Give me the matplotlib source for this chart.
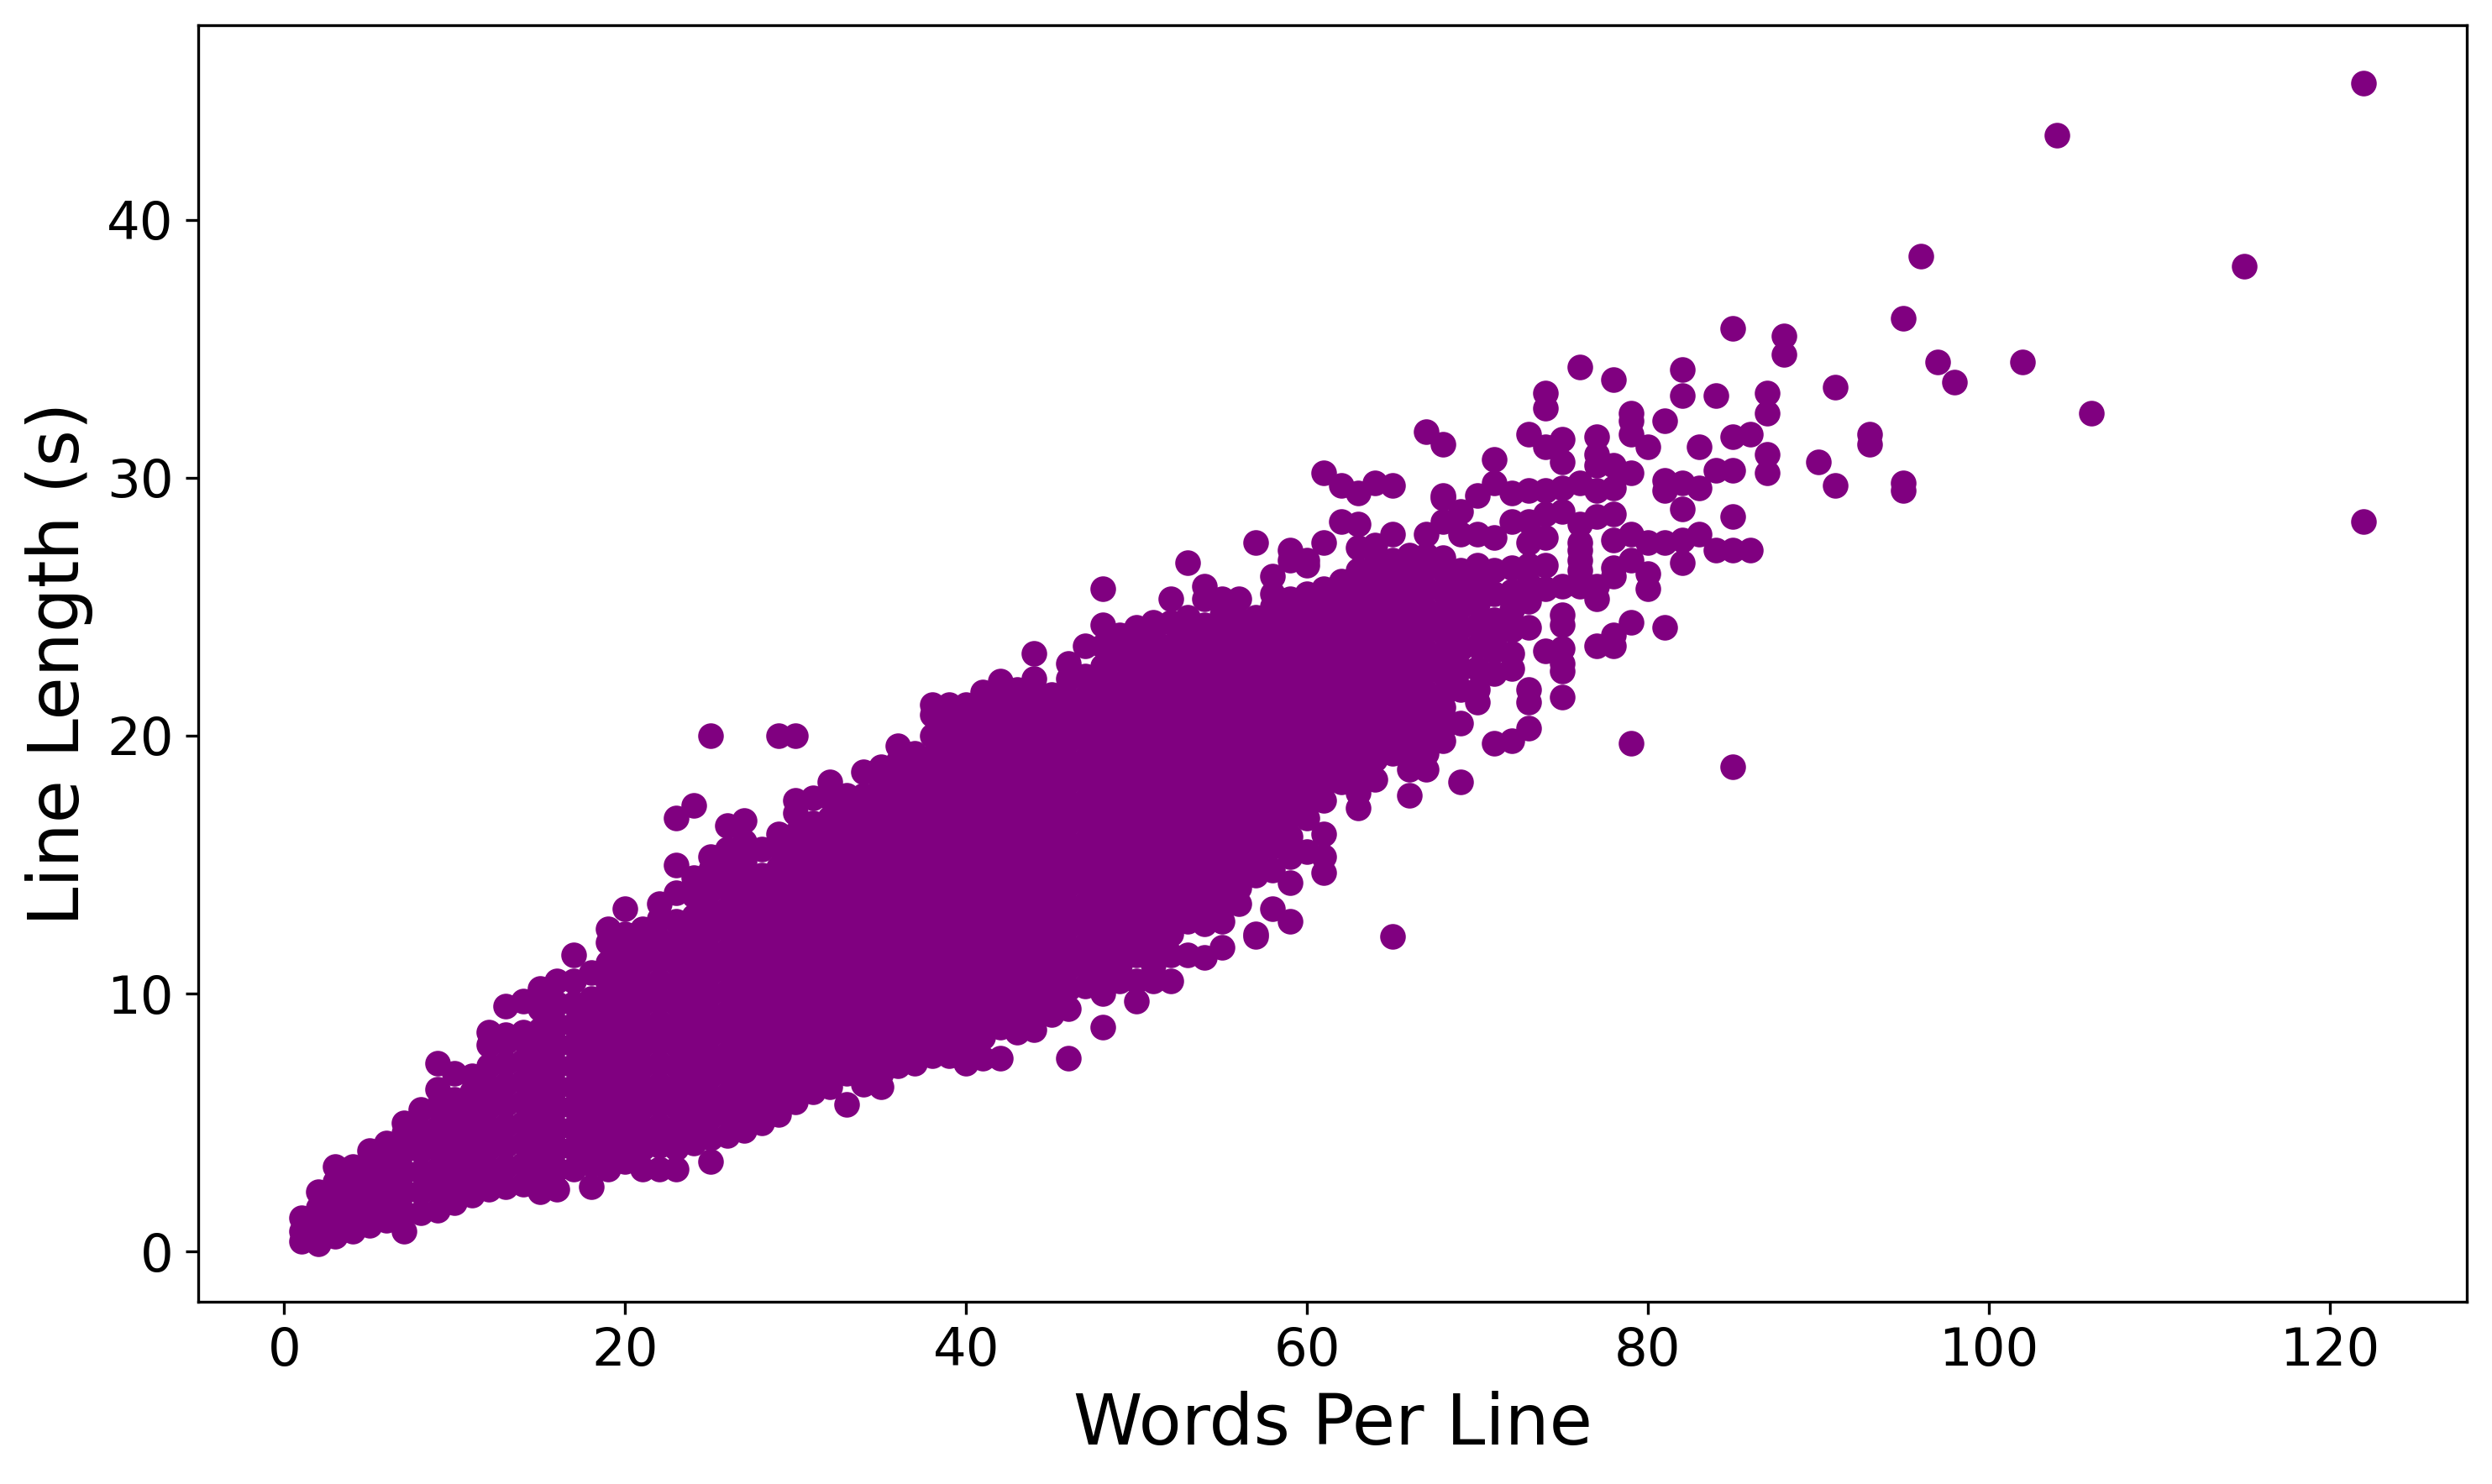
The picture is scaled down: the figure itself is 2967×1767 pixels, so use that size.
import matplotlib
matplotlib.use('Agg')
import matplotlib.pyplot as plt

# words per line -> line lengths (s), one list per word count
words_per_line = list(range(1, 89)) + [90, 91, 93, 95, 96, 97, 98, 102, 104, 106, 115, 122]

line_lengths = [
    [0.4, 0.8, 1.3],
    [0.3, 1.0, 1.7, 2.3],
    [0.6, 1.3, 2.0, 2.7, 3.3],
    [0.8, 1.6, 2.4, 3.2, 3.3],
    [1.0, 1.8, 2.6, 3.4, 3.9],
    [1.2, 2.0, 2.8, 3.6, 4.2],
    [0.8, 1.5, 2.3, 3.1, 3.9, 4.6, 5.0],
    [1.5, 2.3, 3.1, 3.9, 4.7, 5.5],
    [1.6, 2.4, 3.2, 4.0, 4.8, 5.6, 6.3, 7.3],
    [1.9, 2.7, 3.5, 4.3, 5.1, 5.9, 6.9],
    [2.2, 3.0, 3.8, 4.6, 5.4, 6.2, 6.8],
    [2.4, 3.2, 4.0, 4.8, 5.6, 6.4, 7.2, 8.0, 8.5],
    [2.5, 3.3, 4.1, 4.9, 5.7, 6.5, 7.3, 8.1, 8.4, 9.5],
    [2.6, 3.4, 4.2, 5.0, 5.8, 6.6, 7.4, 8.2, 8.5, 9.7],
    [2.3, 3.0, 3.8, 4.6, 5.4, 6.2, 7.0, 7.8, 8.6, 9.4, 10.2],
    [2.4, 3.2, 4.0, 4.8, 5.6, 6.4, 7.2, 8.0, 8.8, 9.6, 10.5],
    [3.2, 4.0, 4.8, 5.6, 6.4, 7.2, 8.0, 8.8, 9.6, 10.5, 11.5],
    [2.5, 3.4, 4.2, 5.0, 5.8, 6.6, 7.4, 8.2, 9.0, 9.8, 10.8],
    [3.2, 4.0, 4.8, 5.6, 6.4, 7.2, 8.0, 8.8, 9.6, 10.4, 11.2, 12.0, 12.5],
    [3.5, 4.3, 5.1, 5.9, 6.7, 7.5, 8.3, 9.1, 9.9, 10.7, 11.5, 12.3, 13.3],
    [3.2, 4.0, 4.8, 5.6, 6.4, 7.2, 8.0, 8.8, 9.6, 10.4, 11.2, 12.0, 12.5],
    [3.2, 4.1, 4.9, 5.7, 6.5, 7.3, 8.1, 8.9, 9.7, 10.5, 11.3, 12.1, 12.9, 13.5],
    [3.2, 4.0, 4.8, 5.6, 6.4, 7.2, 8.0, 8.8, 9.6, 10.4, 11.2, 12.0, 12.8, 13.9, 15.0, 16.8],
    [4.2, 5.0, 5.8, 6.6, 7.4, 8.2, 9.0, 9.8, 10.6, 11.4, 12.2, 13.0, 13.8, 14.5, 17.3],
    [3.5, 4.4, 5.2, 6.0, 6.8, 7.6, 8.4, 9.2, 10.0, 10.8, 11.6, 12.4, 13.2, 14.0, 14.8, 15.3, 20.0],
    [4.5, 5.3, 6.1, 6.9, 7.7, 8.5, 9.3, 10.1, 10.9, 11.7, 12.5, 13.3, 14.1, 14.9, 15.6, 16.5],
    [4.7, 5.5, 6.3, 7.1, 7.9, 8.7, 9.5, 10.3, 11.1, 11.9, 12.7, 13.5, 14.3, 15.1, 15.9, 16.7],
    [5.0, 5.8, 6.6, 7.4, 8.2, 9.0, 9.8, 10.6, 11.4, 12.2, 13.0, 13.8, 14.6, 15.6],
    [5.3, 6.1, 6.9, 7.7, 8.5, 9.3, 10.1, 10.9, 11.7, 12.5, 13.3, 14.1, 14.9, 15.7, 16.2, 20.0],
    [5.8, 6.6, 7.4, 8.2, 9.0, 9.8, 10.6, 11.4, 12.2, 13.0, 13.8, 14.6, 15.4, 16.2, 17.0, 17.5, 20.0],
    [6.2, 7.0, 7.8, 8.6, 9.4, 10.2, 11.0, 11.8, 12.6, 13.4, 14.2, 15.0, 15.8, 16.6, 17.6],
    [6.4, 7.2, 8.0, 8.8, 9.6, 10.4, 11.2, 12.0, 12.8, 13.6, 14.4, 15.2, 16.0, 16.8, 17.6, 18.2],
    [5.7, 6.9, 7.7, 8.5, 9.3, 10.1, 10.9, 11.7, 12.5, 13.3, 14.1, 14.9, 15.7, 16.5, 17.3, 17.7],
    [6.5, 7.3, 8.1, 8.9, 9.7, 10.5, 11.3, 12.1, 12.9, 13.7, 14.5, 15.3, 16.1, 16.9, 17.7, 18.6],
    [6.4, 6.9, 7.7, 8.5, 9.3, 10.1, 10.9, 11.7, 12.5, 13.3, 14.1, 14.9, 15.7, 16.5, 17.3, 18.1, 18.8],
    [7.2, 8.0, 8.8, 9.6, 10.4, 11.2, 12.0, 12.8, 13.6, 14.4, 15.2, 16.0, 16.8, 17.6, 18.4, 19.0, 19.6],
    [7.3, 7.7, 8.5, 9.3, 10.1, 10.9, 11.7, 12.5, 13.3, 14.1, 14.9, 15.7, 16.5, 17.3, 18.1, 18.9, 19.3],
    [7.6, 8.0, 8.8, 9.6, 10.4, 11.2, 12.0, 12.8, 13.6, 14.4, 15.2, 16.0, 16.8, 17.6, 18.4, 19.2, 20.0, 20.8, 21.2],
    [7.6, 8.4, 9.2, 10.0, 10.8, 11.6, 12.4, 13.2, 14.0, 14.8, 15.6, 16.4, 17.2, 18.0, 18.8, 19.6, 20.4, 21.2],
    [7.3, 8.1, 8.9, 9.7, 10.5, 11.3, 12.1, 12.9, 13.7, 14.5, 15.3, 16.1, 16.9, 17.7, 18.5, 19.3, 20.1, 20.7, 21.2],
    [7.5, 8.3, 9.1, 9.9, 10.7, 11.5, 12.3, 13.1, 13.9, 14.7, 15.5, 16.3, 17.1, 17.9, 18.7, 19.5, 20.3, 21.0, 21.7],
    [7.5, 8.7, 9.5, 10.3, 11.1, 11.9, 12.7, 13.5, 14.3, 15.1, 15.9, 16.7, 17.5, 18.3, 19.1, 19.9, 20.7, 21.4, 22.1],
    [8.5, 9.3, 10.1, 10.9, 11.7, 12.5, 13.3, 14.1, 14.9, 15.7, 16.5, 17.3, 18.1, 18.9, 19.7, 20.5, 21.3, 21.8],
    [8.6, 9.0, 9.8, 10.6, 11.4, 12.2, 13.0, 13.8, 14.6, 15.4, 16.2, 17.0, 17.8, 18.6, 19.4, 20.2, 21.0, 21.8, 22.2, 23.2],
    [9.2, 10.0, 10.8, 11.6, 12.4, 13.2, 14.0, 14.8, 15.6, 16.4, 17.2, 18.0, 18.8, 19.6, 20.4, 21.2, 21.6],
    [7.5, 9.4, 10.2, 11.0, 11.8, 12.6, 13.4, 14.2, 15.0, 15.8, 16.6, 17.4, 18.2, 19.0, 19.8, 20.6, 21.4, 22.2, 22.8],
    [10.3, 11.1, 11.9, 12.7, 13.5, 14.3, 15.1, 15.9, 16.7, 17.5, 18.3, 19.1, 19.9, 20.7, 21.5, 22.3, 23.5],
    [8.7, 10.0, 10.7, 11.5, 12.3, 13.1, 13.9, 14.7, 15.5, 16.3, 17.1, 17.9, 18.7, 19.5, 20.3, 21.1, 21.9, 22.7, 23.5, 24.3, 25.7],
    [10.5, 11.1, 11.9, 12.7, 13.5, 14.3, 15.1, 15.9, 16.7, 17.5, 18.3, 19.1, 19.9, 20.7, 21.5, 22.3, 23.1, 23.9],
    [9.7, 10.5, 11.5, 12.3, 13.1, 13.9, 14.7, 15.5, 16.3, 17.1, 17.9, 18.7, 19.5, 20.3, 21.1, 21.9, 22.7, 23.5, 24.2],
    [10.5, 11.1, 11.9, 12.7, 13.5, 14.3, 15.1, 15.9, 16.7, 17.5, 18.3, 19.1, 19.9, 20.7, 21.5, 22.3, 23.1, 23.9, 24.4],
    [10.5, 11.5, 12.3, 13.1, 13.9, 14.7, 15.5, 16.3, 17.1, 17.9, 18.7, 19.5, 20.3, 21.1, 21.9, 22.7, 23.5, 24.4, 25.3],
    [11.5, 12.8, 13.5, 14.3, 15.1, 15.9, 16.7, 17.5, 18.3, 19.1, 19.9, 20.7, 21.5, 22.3, 23.1, 23.9, 24.6, 26.7],
    [11.4, 12.7, 13.1, 13.9, 14.7, 15.5, 16.3, 17.1, 17.9, 18.7, 19.5, 20.3, 21.1, 21.9, 22.7, 23.5, 24.3, 25.3, 25.8],
    [11.8, 12.8, 13.5, 14.3, 15.1, 15.9, 16.7, 17.5, 18.3, 19.1, 19.9, 20.7, 21.5, 22.3, 23.1, 23.9, 24.7, 25.3],
    [13.5, 14.1, 14.9, 15.7, 16.5, 17.3, 18.1, 18.9, 19.7, 20.5, 21.3, 22.1, 22.9, 23.7, 24.5, 25.3],
    [12.2, 12.3, 14.6, 15.3, 16.1, 16.9, 17.7, 18.5, 19.3, 20.1, 20.9, 21.7, 22.5, 23.3, 24.1, 24.6, 27.5],
    [13.3, 14.8, 15.7, 16.5, 17.3, 18.1, 18.9, 19.7, 20.5, 21.3, 22.1, 22.9, 23.7, 24.5, 25.0, 25.5, 26.2],
    [12.8, 14.3, 15.3, 16.1, 16.9, 17.7, 18.5, 19.3, 20.1, 20.9, 21.7, 22.5, 23.3, 24.1, 24.9, 25.3, 26.8, 27.2],
    [15.5, 16.8, 17.5, 18.3, 19.1, 19.9, 20.7, 21.5, 22.3, 23.1, 23.9, 24.7, 25.5, 26.6, 26.8],
    [14.7, 15.3, 16.2, 17.5, 18.1, 18.9, 19.7, 20.5, 21.3, 22.1, 22.9, 23.7, 24.5, 25.3, 25.7, 27.5, 30.2],
    [18.2, 18.5, 19.3, 20.1, 20.9, 21.7, 22.5, 23.3, 24.1, 24.9, 25.7, 26.0, 28.3, 29.7],
    [17.2, 17.8, 18.7, 19.5, 20.3, 21.1, 21.9, 22.7, 23.5, 24.3, 25.1, 25.9, 26.4, 27.3, 28.2, 29.4],
    [18.3, 19.1, 19.9, 20.7, 21.5, 22.3, 23.1, 23.9, 24.7, 25.5, 26.2, 26.6, 27.4, 29.8],
    [12.2, 19.3, 20.1, 20.9, 21.7, 22.5, 23.3, 24.1, 24.9, 25.7, 26.5, 26.8, 27.8, 29.7],
    [17.7, 18.7, 19.5, 20.3, 21.1, 21.9, 22.7, 23.5, 24.3, 25.1, 25.9, 26.7, 27.0],
    [18.7, 19.3, 20.1, 20.9, 21.7, 22.5, 23.3, 24.1, 24.9, 25.7, 26.5, 27.0, 27.8, 31.8],
    [19.8, 20.3, 21.1, 21.6, 22.4, 23.2, 24.0, 24.8, 25.6, 26.4, 26.9, 28.3, 29.2, 29.3, 31.3],
    [18.2, 20.5, 21.8, 22.6, 23.4, 24.2, 25.0, 25.8, 26.4, 27.8, 28.7],
    [21.3, 21.8, 22.6, 23.5, 24.3, 25.1, 25.9, 26.6, 27.8, 29.3],
    [19.7, 22.4, 23.3, 23.7, 24.5, 25.5, 26.4, 27.7, 29.8, 30.7],
    [19.8, 22.6, 23.2, 24.1, 24.9, 25.6, 26.5, 28.3, 29.4],
    [20.3, 21.3, 21.8, 24.2, 25.2, 25.9, 26.6, 27.5, 28.3, 29.5, 31.7],
    [23.3, 25.7, 26.6, 27.7, 28.6, 29.5, 31.2, 32.7, 33.3],
    [21.5, 22.5, 22.8, 23.4, 24.3, 24.7, 25.8, 28.7, 29.6, 30.6, 31.5],
    [25.8, 26.4, 26.8, 27.2, 27.5, 28.2, 29.8, 34.3],
    [23.5, 25.3, 25.8, 28.5, 29.5, 30.5, 30.9, 31.6],
    [23.5, 23.9, 26.2, 26.5, 27.6, 28.6, 29.6, 30.5, 33.8],
    [19.7, 24.4, 26.8, 27.8, 30.2, 31.7, 32.2, 32.5],
    [25.7, 26.3, 27.5, 31.2],
    [24.2, 27.5, 29.5, 29.9, 32.2],
    [26.7, 27.6, 28.8, 29.8, 33.2, 34.2],
    [27.8, 29.6, 31.2],
    [27.2, 30.3, 33.2],
    [18.8, 27.2, 28.5, 30.3, 31.6, 35.8],
    [27.2, 31.7],
    [30.2, 30.9, 32.5, 33.3],
    [34.8, 35.5],
    [30.6],
    [29.7, 33.5],
    [31.3, 31.7],
    [29.5, 29.8, 36.2],
    [38.6],
    [34.5],
    [33.7],
    [34.5],
    [43.3],
    [32.5],
    [38.2],
    [28.3, 45.3],
]

x_values = []
y_values = []
for words, lengths in zip(words_per_line, line_lengths):
    for length in lengths:
        x_values.append(words)
        y_values.append(length)

fig, ax = plt.subplots(figsize=(9.89, 5.89), dpi=300)
fig.subplots_adjust(left=236 / 2967, right=2937 / 2967, top=1 - 30 / 1767, bottom=1 - 1550 / 1767)

ax.scatter(x_values, y_values, color='purple', s=40)
ax.set_xlabel('Words Per Line', fontsize=20)
ax.set_ylabel('Line Length (s)', fontsize=20)
ax.tick_params(labelsize=15)

fig.savefig('out.png', dpi=300)
